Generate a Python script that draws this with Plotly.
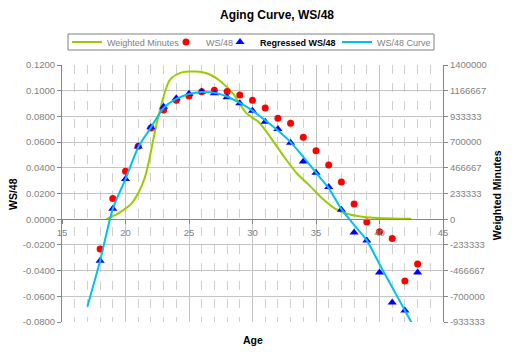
import plotly.graph_objects as go

# ---- data ----
ages = list(range(18, 44))
ws48 = [-0.0232, 0.0161, 0.0374, 0.0568, 0.0710, 0.0850, 0.0925, 0.0958, 0.0992, 0.1003,
        0.0993, 0.0967, 0.0925, 0.0865, 0.0785, 0.0746, 0.0637, 0.0533, 0.0422, 0.0290,
        0.0118, -0.0022, -0.0097, -0.0150, -0.0480, -0.0349]
regressed = [-0.0323, 0.0082, 0.0312, 0.0566, 0.0716, 0.0876, 0.0942, 0.0976, 0.0994, 0.0980,
             0.0949, 0.0903, 0.0844, 0.0759, 0.0702, 0.0595, 0.0450, 0.0362, 0.0251, 0.0074,
             -0.0103, -0.0165, -0.0414, -0.0648, -0.0710, -0.0414]

curve_ages = list(range(17, 44))
curve_vals = [-0.0680, -0.0323, 0.0082, 0.0312, 0.0560, 0.0714, 0.0866, 0.0936, 0.0975, 0.0990,
              0.0985, 0.0955, 0.0905, 0.0845, 0.0770, 0.0690, 0.0600, 0.0485, 0.0362, 0.0242,
              0.0078, -0.0045, -0.0165, -0.0350, -0.0530, -0.0710, -0.0890]

wm_ages = [18.5, 19.5, 20.5, 21.5, 22.5, 23.5, 24.5, 25.5, 26.5, 27.5, 28.5, 29.5, 30.5,
           31.5, 32.5, 33.5, 34.5, 35.5, 36.5, 37.5, 38.5, 39.5, 40.5, 41.5, 42.5]
wm_vals = [0, 57000, 145000, 370000, 890000, 1265000, 1335000, 1340000, 1320000, 1250000,
           1135000, 965000, 880000, 730000, 565000, 415000, 305000, 188000, 97000, 47000,
           25000, 13000, 8000, 5000, 4000]

ws_ticks = [-0.08, -0.06, -0.04, -0.02, 0.0, 0.02, 0.04, 0.06, 0.08, 0.10, 0.12]
ws_ticktext = ["-0.0800", "-0.0600", "-0.0400", "-0.0200", "0.0000", "0.0200", "0.0400",
               "0.0600", "0.0800", "0.1000", "0.1200"]
wm_ticks = [-933333, -700000, -466667, -233333, 0, 233333, 466667, 700000, 933333, 1166667, 1400000]
wm_ticktext = ["-933333", "-700000", "-466667", "-233333", "0", "233333", "466667", "700000",
               "933333", "1166667", "1400000"]
x_ticks = [15, 20, 25, 30, 35, 40, 45]

GRID = "#c4c4c4"
AXIS = "#868686"
TICKFONT = dict(family="Arial", size=9.5, color="#7f7f7f")
LEGFONT = dict(family="Arial", size=9, color="#808080")

fig = go.Figure()
fig.add_trace(go.Scatter(x=wm_ages, y=wm_vals, name="Weighted Minutes", mode="lines",
                         line=dict(color="#99cc00", width=2, shape="spline", smoothing=0.8),
                         yaxis="y", legend="legend"))
fig.add_trace(go.Scatter(x=ages, y=ws48, name="WS/48", mode="markers",
                         marker=dict(color="#ff0000", size=7, symbol="circle"), yaxis="y2",
                         legend="legend2"))
fig.add_trace(go.Scatter(x=ages, y=regressed,
                         name="<span style='color:#000000'><b>Regressed WS/48</b></span>",
                         mode="markers",
                         marker=dict(color="#0000ff", size=8, symbol="triangle-up"), yaxis="y2",
                         legend="legend3"))
fig.add_trace(go.Scatter(x=curve_ages, y=curve_vals, name="WS/48 Curve", mode="lines",
                         line=dict(color="#00c0f0", width=2, shape="spline", smoothing=0.6),
                         yaxis="y2", legend="legend4"))


def leg(px):
    return dict(orientation="h", x=(px - 62) / 381.0, y=(322 - 42) / 257.0,
                xanchor="left", yanchor="middle", borderwidth=0,
                bgcolor="rgba(0,0,0,0)", font=LEGFONT, itemwidth=30)


fig.update_layout(
    width=512, height=353,
    margin=dict(l=62, r=69, t=65, b=31),
    paper_bgcolor="white", plot_bgcolor="white",
    font=dict(family="Arial", color="#000000"),
    title=dict(text="<b>Aging Curve, WS/48</b>", x=0.541, xanchor="center", y=0.957,
               yanchor="middle", font=dict(family="Arial", size=12, color="#000000")),
    showlegend=True,
    legend=leg(67), legend2=leg(166), legend3=leg(220), legend4=leg(337),
    shapes=[dict(type="rect", xref="paper", yref="paper",
                 x0=(68 - 62) / 381.0, x1=(434 - 62) / 381.0,
                 y0=(322 - 50) / 257.0, y1=(322 - 34) / 257.0,
                 line=dict(color="#808080", width=1), fillcolor="white", layer="below")],
    xaxis=dict(range=[15, 45], anchor="free", position=0.4, tickvals=x_ticks,
               ticks="outside", ticklen=4, tickcolor=AXIS, showline=True, linecolor=AXIS,
               linewidth=1, showgrid=True, gridcolor=GRID, gridwidth=1, zeroline=False,
               tickfont=TICKFONT,
               minor=dict(dtick=1, tick0=15, showgrid=True, gridcolor="#cfcfcf",
                          griddash="dash", ticks="")),
    yaxis=dict(range=[-933333, 1400000], side="right", tickvals=wm_ticks, ticktext=wm_ticktext,
               ticks="outside", ticklen=4, tickcolor=AXIS, showline=True, linecolor=AXIS,
               showgrid=True, gridcolor=GRID, zeroline=False, tickfont=TICKFONT, anchor="x"),
    yaxis2=dict(range=[-0.08, 0.12], side="left", overlaying="y", tickvals=ws_ticks,
                ticktext=ws_ticktext, ticks="outside", ticklen=4, tickcolor=AXIS,
                showline=True, linecolor=AXIS, showgrid=False, zeroline=False,
                tickfont=TICKFONT, anchor="x"),
    annotations=[
        dict(text="<b>WS/48</b>", xref="paper", yref="paper", x=-0.13, y=0.5,
             textangle=-90, showarrow=False, xanchor="center", yanchor="middle",
             font=dict(family="Arial", size=10.5, color="#000000")),
        dict(text="<b>Weighted Minutes</b>", xref="paper", yref="paper", x=1.14, y=0.495,
             textangle=-90, showarrow=False, xanchor="center", yanchor="middle",
             font=dict(family="Arial", size=10.5, color="#000000")),
        dict(text="<b>Age</b>", xref="paper", yref="paper", x=0.5, y=-0.07,
             showarrow=False, xanchor="center", yanchor="middle",
             font=dict(family="Arial", size=10.5, color="#000000")),
    ],
)

fig.write_html("out.html")
